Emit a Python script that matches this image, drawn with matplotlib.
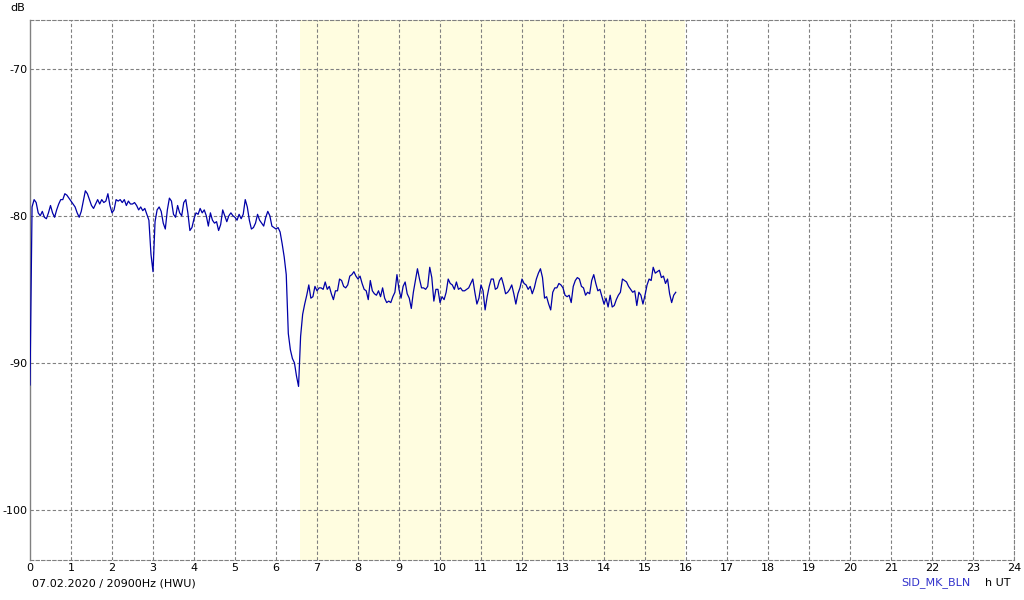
import numpy as np
import matplotlib
matplotlib.use('Agg')
import matplotlib.pyplot as plt

# signal level in dB, one row per hour UT, sampled every 0.05 h
STEP_H = 0.05
h00 = [-91.5, -79.4, -78.9, -79.1, -79.8, -80.0, -79.7, -80.1, -80.2, -79.8, -79.3, -79.8, -80.1, -79.6, -79.2, -78.9, -78.9, -78.5, -78.6, -78.8]
h01 = [-79.0, -79.2, -79.4, -79.8, -80.1, -79.7, -79.0, -78.3, -78.5, -78.9, -79.3, -79.5, -79.2, -78.9, -79.2, -78.9, -79.1, -79.0, -78.5, -79.3]
h02 = [-79.8, -79.6, -78.9, -79.0, -78.9, -79.1, -78.9, -79.3, -79.0, -79.2, -79.2, -79.1, -79.3, -79.6, -79.4, -79.65, -79.5, -79.9, -80.3, -82.6]
h03 = [-83.8, -80.4, -79.6, -79.4, -79.7, -80.5, -80.9, -79.6, -78.8, -79.0, -79.9, -80.1, -79.3, -79.8, -80.0, -79.1, -78.9, -79.8, -81.0, -80.8]
h04 = [-80.2, -79.8, -79.9, -79.5, -79.8, -79.6, -80.0, -80.7, -79.8, -80.3, -80.5, -80.4, -81.0, -80.6, -79.6, -80.0, -80.4, -80.0, -79.8, -80.0]
h05 = [-80.1, -80.3, -79.9, -80.2, -79.9, -78.9, -79.4, -80.3, -80.9, -80.8, -80.5, -79.9, -80.3, -80.5, -80.7, -80.1, -79.7, -80.0, -80.7, -80.8]
h06 = [-80.9, -80.8, -81.1, -81.9, -82.8, -84.0, -88.0, -89.1, -89.7, -90.0, -90.9, -91.6, -88.2, -86.7, -86.0, -85.4, -84.7, -85.6, -85.5, -84.8]
h07 = [-85.1, -84.9, -84.9, -85.0, -84.5, -85.0, -84.8, -85.3, -85.7, -85.1, -85.1, -84.3, -84.4, -84.8, -84.9, -84.7, -84.1, -84.0, -83.8, -84.1]
h08 = [-84.3, -84.1, -84.6, -85.0, -85.1, -85.7, -84.4, -85.1, -85.3, -85.4, -85.1, -85.5, -84.9, -85.6, -85.9, -85.8, -85.9, -85.5, -85.2, -84.0]
h09 = [-85.0, -85.6, -84.8, -84.5, -85.3, -85.6, -86.3, -85.2, -84.4, -83.6, -84.3, -84.9, -84.9, -85.0, -84.8, -83.5, -84.2, -85.8, -85.0, -85.0]
h10 = [-85.9, -85.5, -85.7, -85.2, -84.3, -84.6, -84.7, -85.0, -84.5, -85.0, -84.9, -85.1, -85.1, -85.0, -84.9, -84.6, -84.3, -85.2, -86.0, -85.6]
h11 = [-84.7, -85.1, -86.4, -85.5, -84.8, -84.3, -84.3, -85.0, -84.9, -84.4, -84.2, -84.7, -85.3, -85.2, -85.0, -84.7, -85.3, -86.0, -85.3, -84.9]
h12 = [-84.3, -84.6, -84.7, -85.0, -84.8, -85.3, -84.9, -84.3, -83.9, -83.6, -84.2, -85.6, -85.5, -86.0, -86.4, -85.2, -84.9, -84.9, -84.6, -84.7]
h13 = [-84.9, -85.4, -85.5, -85.4, -85.9, -84.8, -84.4, -84.2, -84.3, -84.8, -84.9, -85.4, -85.2, -85.3, -84.4, -84.0, -84.6, -85.1, -85.0, -85.5]
h14 = [-86.0, -85.6, -86.2, -85.4, -86.2, -86.1, -85.7, -85.4, -85.2, -84.3, -84.4, -84.5, -84.8, -85.0, -85.2, -85.1, -86.1, -85.2, -85.4, -86.0]
h15 = [-85.4, -84.7, -84.3, -84.4, -83.5, -83.9, -83.8, -83.7, -84.2, -84.1, -84.6, -84.3, -85.3, -85.9, -85.4, -85.2]

# daylight band (h UT)
day_start, day_end = 6.58, 15.97
x_ticks = list(range(0, 25))
y_ticks = [-100, -90, -80, -70]
date_label = '07.02.2020 / 20900Hz (HWU)'
station = 'SID_MK_BLN'

db = np.array(h00 + h01 + h02 + h03 + h04 + h05 + h06 + h07 +
              h08 + h09 + h10 + h11 + h12 + h13 + h14 + h15)
hours = np.arange(len(db)) * STEP_H

plt.rcParams['font.family'] = ['DejaVu Sans']
plt.rcParams['axes.unicode_minus'] = False
fig = plt.figure(figsize=(10.24, 6.0), dpi=100)
ax = fig.add_axes([30/1024, 40/600, 984/1024, 540/600])

ax.axvspan(day_start, day_end, color='#fffde0', zorder=0, lw=0)
grid_kw = dict(color='#808080', lw=0.8, ls=(0, (3, 2)), zorder=1)
for xt in x_ticks[1:]:
    ax.axvline(xt, **grid_kw)
for yt in y_ticks:
    ax.axhline(yt, **grid_kw)

ax.plot(hours, db, color='#0000a8', lw=0.9, zorder=3)

ax.set_xlim(0, 24)
ax.set_ylim(-103.4, -66.69)
ax.set_xticks(x_ticks)
ax.set_yticks(y_ticks)
ax.tick_params(length=0, labelsize=8, pad=2)
for side in ('top', 'right', 'bottom'):
    ax.spines[side].set_linestyle((0, (3, 2)))
    ax.spines[side].set_color('#808080')
    ax.spines[side].set_linewidth(0.8)
ax.spines['left'].set_color('#808080')
ax.spines['left'].set_linewidth(1.0)

fig.text(10/1024, 1 - 8/600, 'dB', fontsize=8, va='center', ha='left')
fig.text(32/1024, 1 - 583/600, date_label, fontsize=8, va='center', ha='left')
fig.text(970/1024, 1 - 583/600, station, fontsize=8, va='center', ha='right', color='#3333cc')
fig.text(985/1024, 1 - 583/600, 'h UT', fontsize=8, va='center', ha='left')

fig.savefig('out.png', dpi=100, facecolor='white')
